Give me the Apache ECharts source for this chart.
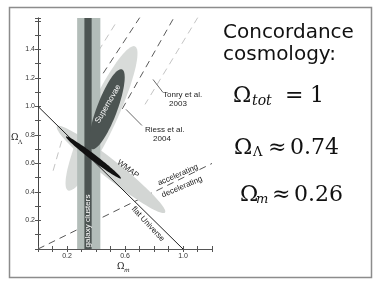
<!DOCTYPE html>
<html><head><meta charset="utf-8">
<script src="https://cdn.jsdelivr.net/npm/echarts@6/dist/echarts.min.js"></script>
<style>html,body{margin:0;padding:0;background:#fff}#c{width:382px;height:291px}</style>
</head><body><div id="c"></div>
<script>
// ---- data ----
const xTickLabels = ['0.2', '0.6', '1.0'];
const yTickLabels = ['0.2', '0.4', '0.6', '0.8', '1.0', '1.2', '1.4'];
const xMax = 1.2, yMax = 1.62;
// galaxy clusters: Omega_m ranges
const clusterWide = [0.27, 0.43];
const clusterCore = [0.32, 0.37];
// contours: [tipX1, tipY1, tipX2, tipY2, halfWidth]  (data units)
const snOuter = [0.669, 1.421, 0.207, 0.411, 0.1];
const snCore = [0.579, 1.26, 0.372, 0.701, 0.07];
const wmapOuter = [0.131, 0.860, 0.876, 0.256, 0.062];
const wmapCore = [0.193, 0.789, 0.572, 0.495, 0.021];
// lines
const flatUniverse = [[0, 1], [1, 0]];
const accelBoundary = [[0, 0], [1.2, 0.6]];
const tonryDark = [[[0.703, 1.625], [0.448, 1.23]], [[0.931, 1.611], [0.579, 0.979]]];
const tonryLight = [[[1.103, 1.625], [0.738, 1.014]], [[0.531, 1.575], [0.372, 1.316]], [[0.186, 0.839], [0.097, 0.523]]];
const leaderTonry = [[0.793, 1.189], [0.862, 1.098]];
const leaderRiess = [[0.607, 0.979], [0.717, 0.866]];

const chart = echarts.init(document.getElementById('c'), null, {renderer: 'canvas'});

function ellipseItem(color) {
  return function (params, api) {
    const p1 = api.coord([api.value(0), api.value(1)]);
    const p2 = api.coord([api.value(2), api.value(3)]);
    const w = api.size([api.value(4), 0])[0];
    const cx = (p1[0] + p2[0]) / 2, cy = (p1[1] + p2[1]) / 2;
    const a = Math.hypot(p2[0] - p1[0], p2[1] - p1[1]) / 2;
    const ang = Math.atan2(p2[1] - p1[1], p2[0] - p1[0]);
    const pts = [];
    for (let i = 0; i < 90; i++) {
      const t = i / 90 * 2 * Math.PI;
      const ex = a * Math.cos(t), ey = w * Math.sin(t);
      pts.push([cx + ex * Math.cos(ang) - ey * Math.sin(ang), cy + ex * Math.sin(ang) + ey * Math.cos(ang)]);
    }
    return {type: 'polygon', shape: {points: pts}, style: {fill: color}};
  };
}
function bandItem(color) {
  return function (params, api) {
    const p0 = api.coord([api.value(0), yMax]);
    const p1 = api.coord([api.value(1), 0]);
    return {type: 'rect', shape: {x: p0[0], y: p0[1], width: p1[0] - p0[0], height: p1[1] - p0[1]}, style: {fill: color}};
  };
}
let z = 1;
function ell(d, color) {
  return {type: 'custom', renderItem: ellipseItem(color), data: [d], encode: {x: [0, 2], y: [1, 3]}, clip: true, silent: true, z: z++};
}
function band(d, color) {
  return {type: 'custom', renderItem: bandItem(color), data: [d], encode: {x: [0, 1]}, clip: true, silent: true, z: z++};
}
function line(d, color, width, dash) {
  return {type: 'line', data: d, symbol: 'none', silent: true, z: z++, clip: true,
    lineStyle: {color: color, width: width, type: dash ? dash : 'solid'}};
}

const series = [];
tonryDark.forEach(s => series.push(line(s, '#5a5a5a', 1, [7, 5])));
tonryLight.forEach(s => series.push(line(s, '#c4c4c4', 1, [7, 5])));
series.push(line(accelBoundary, '#555', 1, [7, 5]));
series.push(ell(snOuter, '#d8dbd9'));
series.push(ell(wmapOuter, '#d3d6d4'));
series.push(band(clusterWide, '#b3bdb9'));
series.push(band(clusterCore, '#4c5452'));
series.push(ell(snCore, '#4c5452'));
series.push(line(flatUniverse, '#222', 1));
series.push(ell(wmapCore, '#111'));
series.push(line(leaderTonry, '#444', 0.8));
series.push(line(leaderRiess, '#444', 0.8));

const tickStyle = {inside: true, length: 3, lineStyle: {color: '#555', width: 1}};
const labelFont = {fontSize: 7, color: '#333', fontFamily: 'Liberation Sans'};
function axisBase(extra) {
  return Object.assign({type: 'value', min: 0, interval: 0.1, splitLine: {show: false}, axisTick: tickStyle}, extra);
}

const sf = 'Liberation Sans';
const mf = 'DejaVu Serif';
function txt(x, y, text, opts) {
  opts = opts || {};
  return {type: 'text', x: x, y: y, rotation: (opts.rot || 0) * Math.PI / 180, silent: true, z: 100,
    style: {text: text, x: 0, y: 0, fill: opts.fill || '#222', font: opts.font || ('8px ' + sf),
      align: opts.align || 'center', verticalAlign: 'middle'}};
}

const graphic = [
  {type: 'rect', shape: {x: 9.5, y: 7.5, width: 362, height: 270}, style: {fill: 'none', stroke: '#8c8c8c', lineWidth: 1.5}, silent: true, z: 100},
  txt(108, 104, 'Supernovae', {rot: 60, fill: '#fff'}),
  txt(88, 221, 'galaxy clusters', {rot: 90, fill: '#fff'}),
  txt(128, 169, 'WMAP', {rot: -37}),
  txt(148, 224, 'flat Universe', {rot: -47}),
  txt(178, 175, 'accelerating', {rot: 23}),
  txt(182, 187, 'decelerating', {rot: 23}),
  txt(163, 95, 'Tonry et al.', {align: 'left'}),
  txt(178, 104, '2003'),
  txt(145, 130, 'Riess et al.', {align: 'left'}),
  txt(162, 139, '2004'),
  // axis names
  txt(11, 138, 'Ω', {align: 'left', font: '9px ' + mf}),
  txt(18, 142, 'Λ', {align: 'left', font: '6px ' + mf}),
  txt(117, 267, 'Ω', {align: 'left', font: '9px ' + mf}),
  txt(124, 270, 'm', {align: 'left', font: 'italic 6px ' + mf}),
  // right text
  txt(223, 33, 'Concordance', {align: 'left', font: '20px DejaVu Sans', fill: '#111'}),
  txt(223, 55, 'cosmology:', {align: 'left', font: '20px DejaVu Sans', fill: '#111'}),
  txt(233, 96, 'Ω', {align: 'left', font: '22px ' + mf, fill: '#111'}),
  txt(252, 101, 'tot', {align: 'left', font: 'italic 14px ' + mf, fill: '#111'}),
  txt(285, 96, '=', {align: 'left', font: '22px ' + mf, fill: '#111'}),
  txt(310, 96, '1', {align: 'left', font: '22px ' + mf, fill: '#111'}),
  txt(234, 148, 'Ω', {align: 'left', font: '22px ' + mf, fill: '#111'}),
  txt(253, 153, 'Λ', {align: 'left', font: '13px ' + mf, fill: '#111'}),
  txt(268, 148, '≈', {align: 'left', font: '22px ' + mf, fill: '#111'}),
  txt(290, 148, '0.74', {align: 'left', font: '22px ' + mf, fill: '#111'}),
  txt(240, 195, 'Ω', {align: 'left', font: '22px ' + mf, fill: '#111'}),
  txt(256, 200, 'm', {align: 'left', font: 'italic 13px ' + mf, fill: '#111'}),
  txt(272, 195, '≈', {align: 'left', font: '22px ' + mf, fill: '#111'}),
  txt(294, 195, '0.26', {align: 'left', font: '22px ' + mf, fill: '#111'})
];

chart.setOption({
  animation: false,
  backgroundColor: '#fff',
  grid: {left: 38, top: 18, width: 174, height: 231},
  xAxis: [
    axisBase({max: xMax, position: 'bottom', axisLine: {show: true, lineStyle: {color: '#555', width: 1}},
      axisLabel: Object.assign({margin: 4, formatter: v => xTickLabels.includes(v.toFixed(1)) ? v.toFixed(1) : ''}, labelFont)}),
    axisBase({max: xMax, position: 'top', axisLine: {show: false}, axisLabel: {show: false}})
  ],
  yAxis: [
    axisBase({max: yMax, position: 'left', axisLine: {show: true, lineStyle: {color: '#888', width: 1}},
      axisLabel: Object.assign({margin: 3, formatter: v => yTickLabels.includes(v.toFixed(1)) ? v.toFixed(1) : ''}, labelFont)}),
    axisBase({max: yMax, position: 'right', axisLine: {show: true, lineStyle: {color: '#444', width: 1}}, axisLabel: {show: false}})
  ],
  series: series,
  graphic: graphic
});
</script></body></html>
